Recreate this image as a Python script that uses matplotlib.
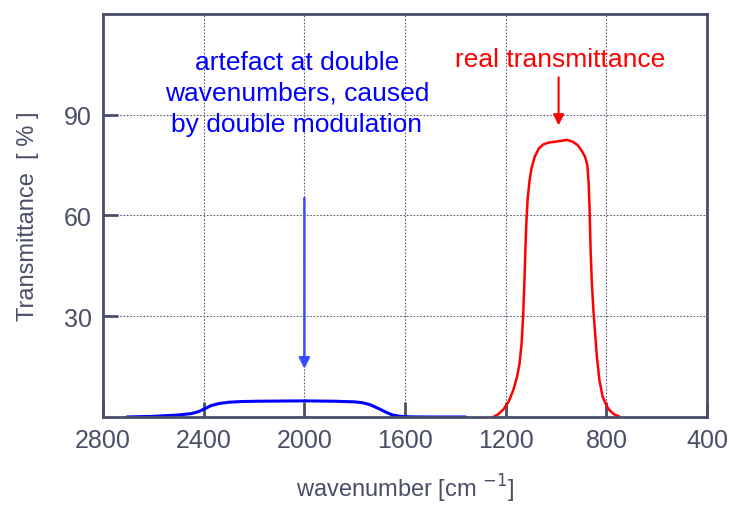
import matplotlib.pyplot as plt

plt.rcParams['font.family'] = ['Liberation Sans', 'DejaVu Sans']

# artefact curve (blue)
artefact_wn = [2705, 2600, 2500, 2450, 2420, 2395, 2370, 2340, 2300, 2250, 2185, 2000, 1880,
               1800, 1772, 1740, 1705, 1675, 1650, 1620, 1580, 1500, 1360]
artefact_t = [0.0, 0.2, 0.6, 1.0, 1.6, 2.5, 3.4, 4.0, 4.4, 4.6, 4.7, 4.8, 4.7,
              4.5, 4.3, 3.7, 2.5, 1.4, 0.6, 0.2, 0.05, 0.0, 0.0]

# real transmittance curve (red)
real_wn = [1250, 1230, 1210, 1189, 1170, 1155, 1145, 1137, 1131, 1126, 1122, 1118, 1113, 1106,
           1098, 1085, 1068, 1050, 1030, 1000, 975, 955, 935, 915, 900, 885, 876, 871, 867,
           863, 858, 852, 845, 838, 828, 815, 800, 790, 770, 750]
real_t = [0.0, 0.8, 2.2, 4.5, 8.0, 12.0, 16.0, 22.0, 30.0, 40.0, 50.0, 58.0, 65.0, 70.0,
          74.0, 77.5, 80.0, 81.2, 81.7, 82.0, 82.3, 82.5, 82.0, 81.0, 79.5, 77.5, 75.0, 70.0, 62.0,
          50.0, 40.0, 32.0, 25.0, 18.0, 11.0, 6.0, 3.5, 2.2, 0.8, 0.2]

x_ticks = [2800, 2400, 2000, 1600, 1200, 800, 400]
y_ticks = [30, 60, 90]

frame = '#4a4e68'

fig = plt.figure(figsize=(7.29, 5.10), dpi=100)
ax = fig.add_axes([0.1413, 0.1804, 0.8287, 0.7902])

ax.plot(artefact_wn, artefact_t, color='#0000ff', lw=2.2, solid_capstyle='round')
ax.plot(real_wn, real_t, color='#ff0000', lw=1.8, solid_capstyle='round')

ax.set_xlim(2800, 400)
ax.set_ylim(0, 120)
ax.set_xticks(x_ticks)
ax.set_yticks(y_ticks)
ax.grid(True, color='#5a5e78', linestyle=(0, (1.5, 1.5)), lw=0.8)
ax.tick_params(direction='in', length=11, width=2, colors=frame, labelsize=18, pad=8)
for s in ax.spines.values():
    s.set_color(frame)
    s.set_linewidth(2)

ax.set_xlabel('wavenumber [cm $^{-1}$]', fontsize=17, color=frame, labelpad=14)
ax.set_ylabel('Transmittance  [ % ]', fontsize=17, color=frame, labelpad=18)

ax.text(2030, 96.5, 'artefact at double\nwavenumbers, caused\nby double modulation',
        color='#0000ff', fontsize=19, ha='center', va='center', linespacing=1.35)
ax.annotate('', xy=(2000, 13.5), xytext=(2000, 66),
            arrowprops=dict(arrowstyle='-|>', color='#3a4aff', lw=1.8, mutation_scale=16))

ax.text(985, 106.5, 'real transmittance', color='#ff0000', fontsize=19, ha='center', va='center')
ax.annotate('', xy=(990, 86), xytext=(990, 102),
            arrowprops=dict(arrowstyle='-|>', color='#ff0000', lw=1.5, mutation_scale=16))

fig.savefig('out.png', dpi=100)
